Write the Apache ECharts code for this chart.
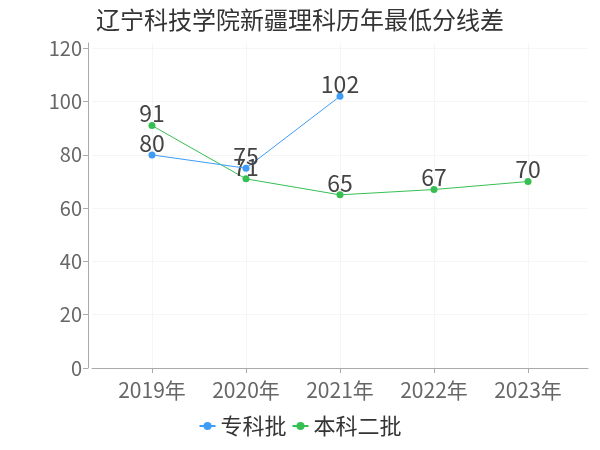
<!DOCTYPE html>
<html>
<head>
<meta charset="utf-8">
<script src="https://cdn.jsdelivr.net/npm/echarts@6/dist/echarts.min.js"></script>
<style>
  html, body { margin: 0; padding: 0; background: #fff; }
  #chart { width: 600px; height: 450px; }
</style>
</head>
<body>
<div id="chart"></div>
<script>
// chart data
const years = [2019, 2020, 2021, 2022, 2023];
const zhuankeValues = [80, 75, 102, null, null]; // 专科批
const benkeValues = [91, 71, 65, 67, 70];        // 本科二批
const yTicks = [0, 20, 40, 60, 80, 100, 120];

const chart = echarts.init(document.getElementById('chart'));

const font = '"Noto Sans CJK SC", "Noto Sans", sans-serif';

function pairs(values) {
  // pair each value with its year for the value-type x axis
  return years.map((y, i) => [y, values[i]]);
}

const option = {
  backgroundColor: '#fff',
  textStyle: { fontFamily: font },
  title: {
    text: '辽宁科技学院新疆理科历年最低分线差',
    left: 'center',
    top: 3,
    textStyle: { fontSize: 24, fontWeight: 'normal', color: '#333', fontFamily: font }
  },
  legend: {
    bottom: 8,
    left: 'center',
    itemGap: 5,
    itemWidth: 16,
    itemHeight: 10,
    textStyle: { fontSize: 22, color: '#333', fontFamily: font }
  },
  grid: { left: 92, right: 12, top: 43, bottom: 82 },
  xAxis: {
    type: 'value',
    min: 2018.362,
    max: 2023.638,
    offset: 4,
    axisLine: { show: true, lineStyle: { color: '#aaa' } },
    axisTick: { show: true, customValues: years, lineStyle: { color: '#aaa' } },
    axisLabel: {
      customValues: years,
      formatter: v => v + '年',
      fontSize: 21,
      color: '#666',
      margin: 8
    },
    splitLine: { show: true, lineStyle: { color: '#f5f5f5' } }
  },
  yAxis: {
    type: 'value',
    min: 0,
    max: 122,
    interval: 20,
    offset: 4,
    axisLine: { show: true, lineStyle: { color: '#aaa' } },
    axisTick: { show: true, customValues: yTicks, lineStyle: { color: '#aaa' } },
    axisLabel: {
      customValues: yTicks,
      fontSize: 20,
      color: '#666',
      margin: 6
    },
    splitLine: { show: true, lineStyle: { color: '#f5f5f5' } }
  },
  series: [
    {
      name: '专科批',
      type: 'line',
      data: pairs(zhuankeValues),
      symbol: 'circle',
      symbolSize: 7,
      itemStyle: { color: '#3e9cf7' },
      lineStyle: { width: 1, color: '#3e9cf7' },
      label: { show: true, position: 'top', fontSize: 23, color: '#444', distance: 1,
        offset: [0, 4], formatter: p => p.value[1] },
      z: 3
    },
    {
      name: '本科二批',
      type: 'line',
      data: pairs(benkeValues),
      symbol: 'circle',
      symbolSize: 7,
      itemStyle: { color: '#36c052' },
      lineStyle: { width: 1, color: '#36c052' },
      label: { show: true, position: 'top', fontSize: 23, color: '#444', distance: 1,
        offset: [0, 4], formatter: p => p.value[1] },
      z: 2
    }
  ]
};

chart.setOption(option);
</script>
</body>
</html>
